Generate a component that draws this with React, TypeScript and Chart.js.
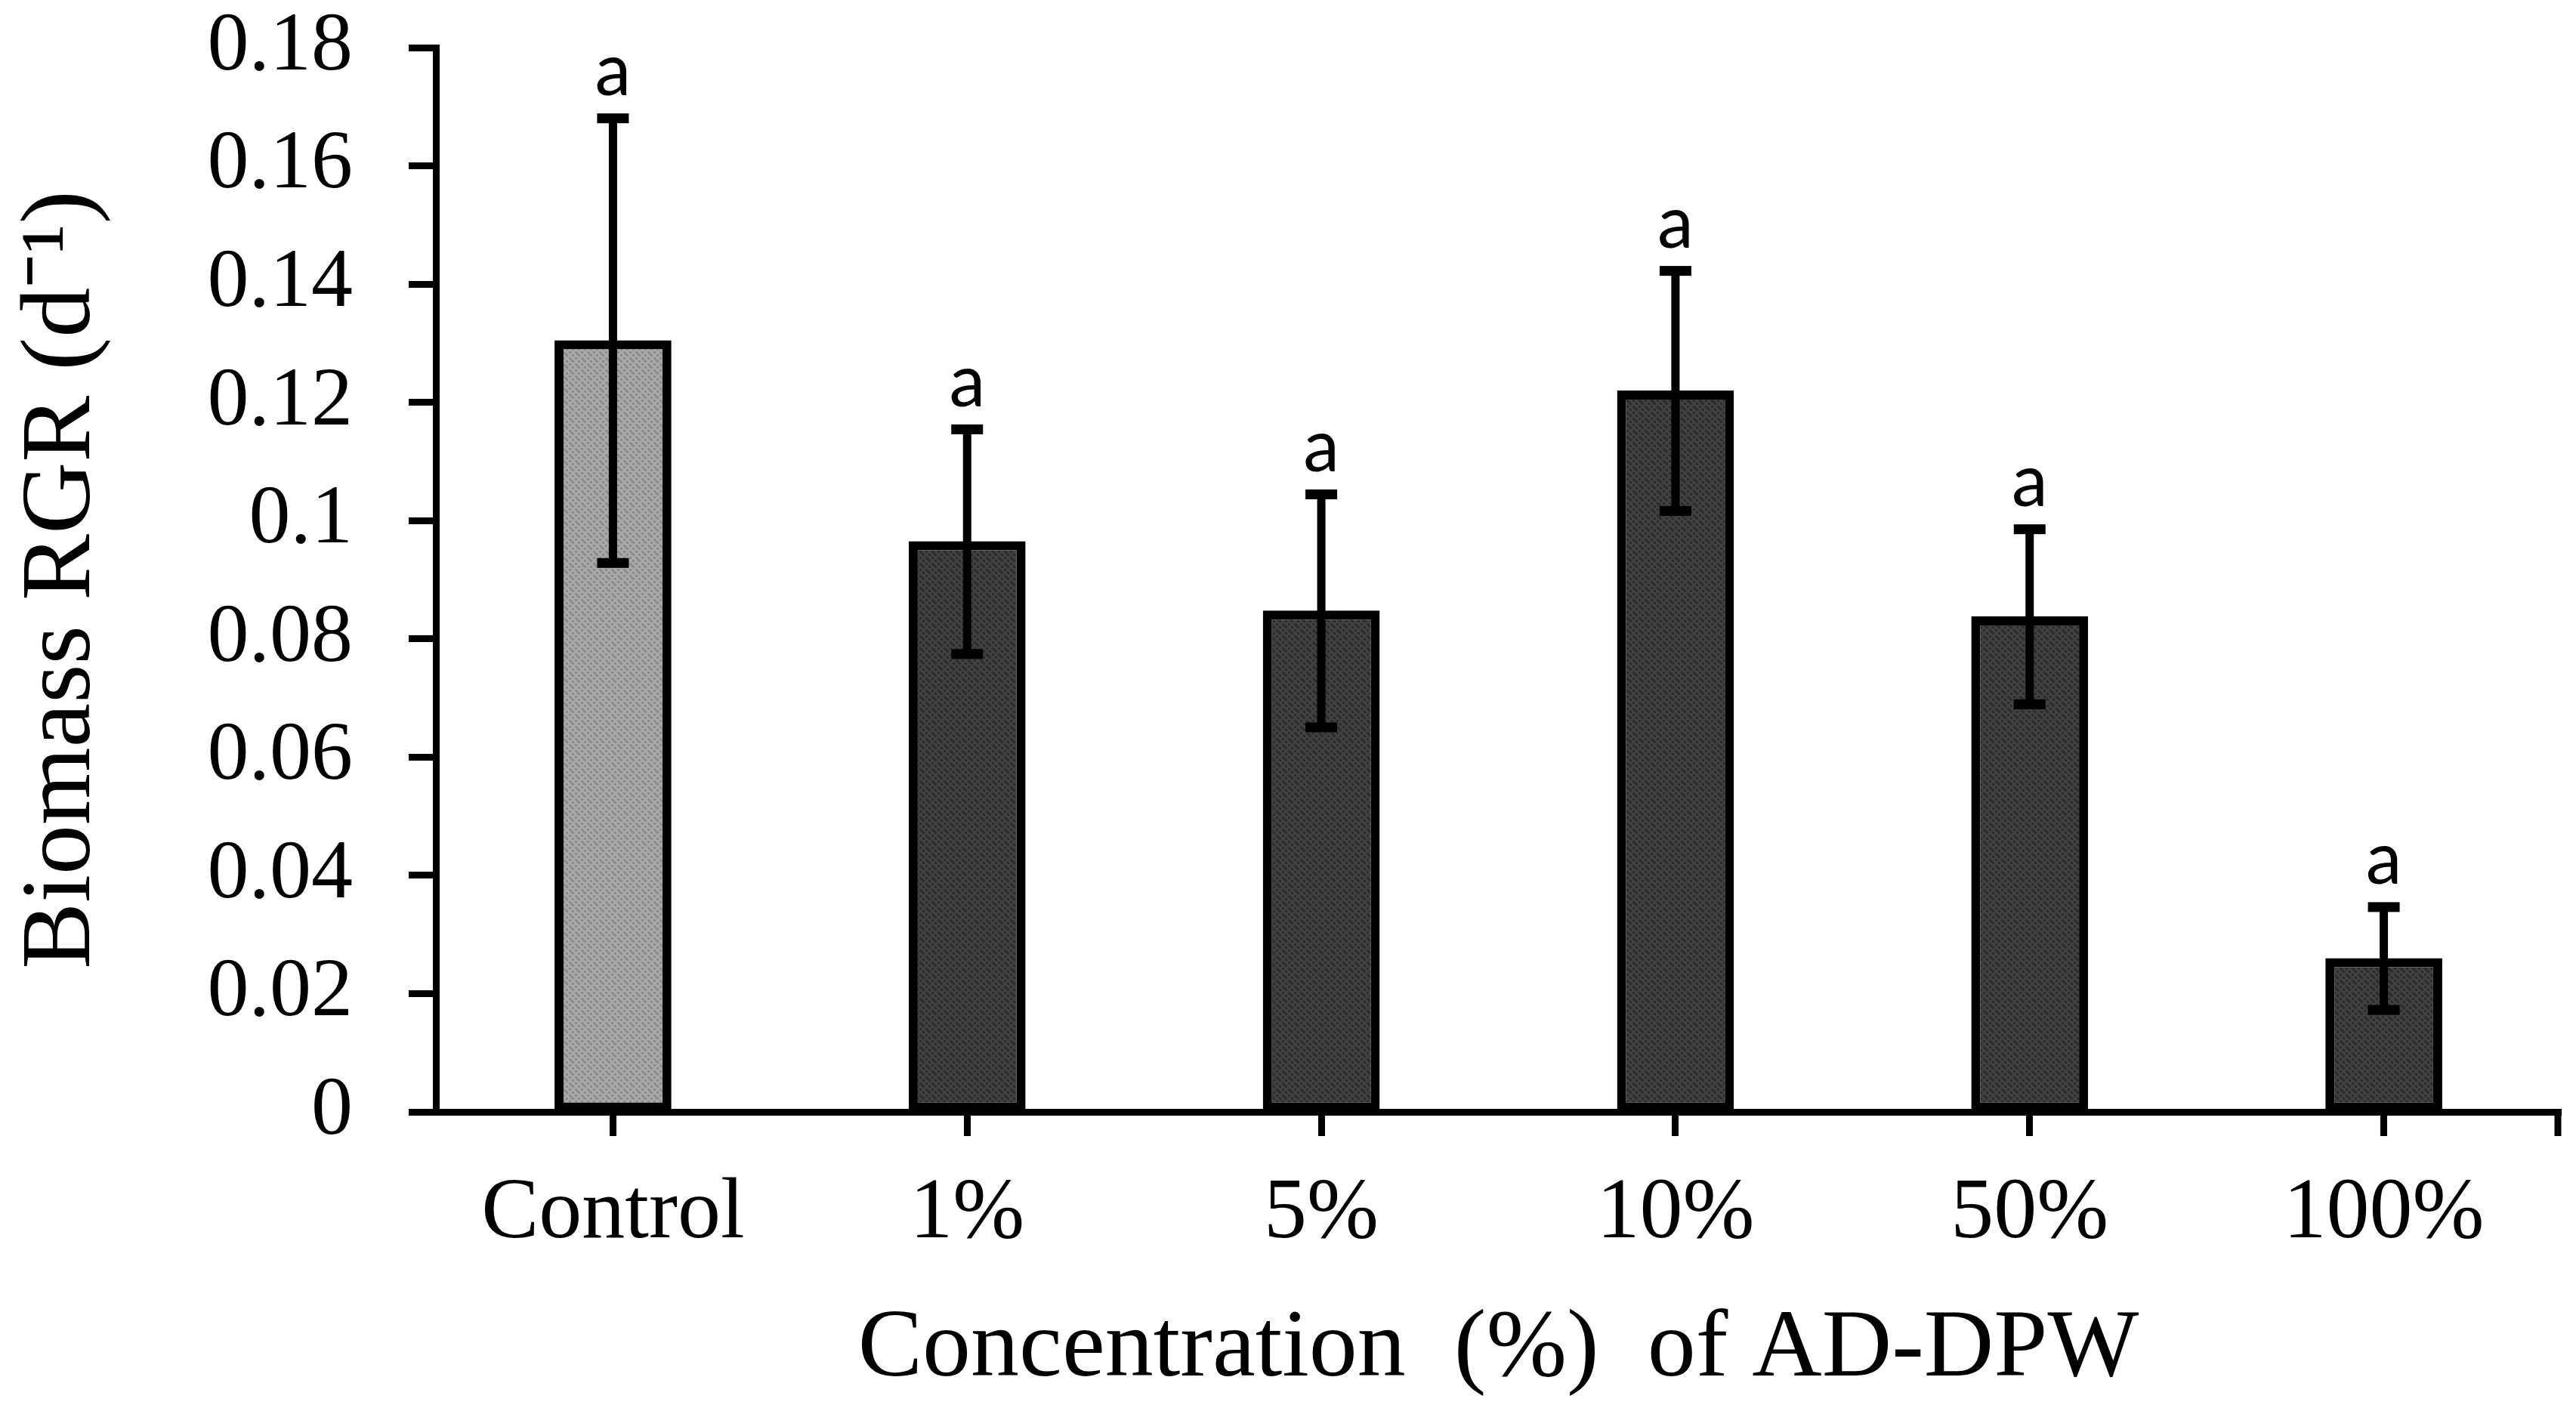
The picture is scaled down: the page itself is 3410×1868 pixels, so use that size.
import { useEffect, useRef } from 'react';
import { Chart, registerables } from 'chart.js';

Chart.register(...registerables);

const categories = ['Control', '1%', '5%', '10%', '50%', '100%'];
const rgrMeans = [0.1305, 0.0965, 0.0848, 0.122, 0.0838, 0.026];
const rgrErrors = [0.0376, 0.019, 0.0197, 0.0203, 0.0148, 0.0087];
const significanceLetters = ['a', 'a', 'a', 'a', 'a', 'a'];
const barBaseColors = ['#a8a8a8', '#404040', '#404040', '#404040', '#404040', '#404040'];
const barDotColors = ['#8c8c8c', '#2c2c2c', '#2c2c2c', '#2c2c2c', '#2c2c2c', '#2c2c2c'];
const yTickLabels = ['0', '0.02', '0.04', '0.06', '0.08', '0.1', '0.12', '0.14', '0.16', '0.18'];

const serif = "'Liberation Serif', 'Times New Roman', serif";

// fixed stipple layout for the bar texture (tile 16x16)
const stippleDots = [
  [1, 1], [9, 1], [5, 5], [13, 5], [1, 9], [9, 9], [5, 13], [13, 13], [11, 3], [3, 11],
];

function makePattern(base: string, dot: string): CanvasPattern | string {
  const c = document.createElement('canvas');
  c.width = 16;
  c.height = 16;
  const g = c.getContext('2d');
  if (!g) return base;
  g.fillStyle = base;
  g.fillRect(0, 0, 16, 16);
  g.fillStyle = dot;
  stippleDots.forEach(([dx, dy]) => g.fillRect(dx, dy, 3, 3));
  const p = g.createPattern(c, 'repeat');
  return p || base;
}

const errorBarPlugin = {
  id: 'errorBars',
  afterDatasetsDraw(chart: any) {
    const { ctx } = chart;
    const y = chart.scales.y;
    const xs = chart.scales.x;
    const meta = chart.getDatasetMeta(0);
    ctx.save();
    ctx.strokeStyle = '#000';
    ctx.fillStyle = '#000';
    meta.data.forEach((bar: any, i: number) => {
      const x = bar.x;
      const top = y.getPixelForValue(rgrMeans[i] + rgrErrors[i]);
      const bot = y.getPixelForValue(rgrMeans[i] - rgrErrors[i]);
      ctx.lineWidth = 11;
      ctx.beginPath();
      ctx.moveTo(x, top);
      ctx.lineTo(x, bot);
      ctx.stroke();
      ctx.fillRect(x - 21, top - 6, 42, 13);
      ctx.fillRect(x - 21, bot - 6, 42, 13);
      ctx.font = "96px Lato, 'Open Sans', sans-serif";
      ctx.textAlign = 'center';
      ctx.textBaseline = 'alphabetic';
      ctx.fillText(significanceLetters[i], x, top - 30);
    });
    ctx.lineWidth = 9;
    ctx.beginPath();
    ctx.moveTo(xs.right - 4, xs.top);
    ctx.lineTo(xs.right - 4, xs.top + 32);
    ctx.stroke();
    ctx.restore();
  },
};

export default function App() {
  const canvasRef = useRef<HTMLCanvasElement | null>(null);

  useEffect(() => {
    document.body.style.margin = '0';
    document.body.style.overflow = 'hidden';
    const canvas = canvasRef.current;
    if (!canvas) return;
    const fills = barBaseColors.map((b, i) => makePattern(b, barDotColors[i]));
    const chart = new Chart(canvas, {
      type: 'bar',
      data: {
        labels: categories,
        datasets: [
          {
            data: rgrMeans,
            backgroundColor: fills as any,
            borderColor: '#000',
            borderWidth: 12,
            borderSkipped: false,
            barPercentage: 0.33,
            categoryPercentage: 1,
          },
        ],
      },
      options: {
        animation: false,
        responsive: true,
        maintainAspectRatio: false,
        devicePixelRatio: 1,
        layout: { padding: { left: 0, top: 63, right: 20, bottom: 0 } },
        plugins: {
          legend: { display: false },
          tooltip: { enabled: false },
        },
        scales: {
          x: {
            grid: {
              display: true,
              offset: false,
              drawOnChartArea: false,
              drawTicks: true,
              tickLength: 32,
              tickWidth: 9,
              tickColor: '#000',
            },
            border: { display: true, color: '#000', width: 9 },
            ticks: {
              color: '#000',
              padding: 36,
              font: { family: serif, size: 114 },
              maxRotation: 0,
            },
            title: {
              display: true,
              text: 'Concentration  (%)  of AD-DPW',
              color: '#000',
              font: { family: serif, size: 128 },
              padding: { top: 0, bottom: 4 },
            },
            afterFit: (scale: any) => {
              scale.height = 1868 - 1472;
            },
          },
          y: {
            min: 0,
            max: 0.18,
            ticks: {
              stepSize: 0.02,
              color: '#000',
              padding: 74,
              font: { family: serif, size: 110 },
              callback: (_v: any, index: number) => yTickLabels[index],
            },
            grid: {
              display: true,
              drawOnChartArea: false,
              drawTicks: true,
              tickLength: 36,
              tickWidth: 9,
              tickColor: '#000',
            },
            border: { display: true, color: '#000', width: 9 },
            title: {
              display: true,
              text: 'Biomass RGR (d\u207B\u00B9)',
              color: '#000',
              font: { family: serif, size: 132 },
              padding: { top: 4, bottom: 0 },
            },
            afterFit: (scale: any) => {
              scale.width = 577;
              scale.paddingTop = 10;
              scale.paddingBottom = 10;
            },
          },
        },
      },
      plugins: [errorBarPlugin],
    });
    return () => chart.destroy();
  }, []);

  return (
    <div style={{ width: '3410px', height: '1868px', position: 'relative' }}>
      <canvas ref={canvasRef} />
    </div>
  );
}
